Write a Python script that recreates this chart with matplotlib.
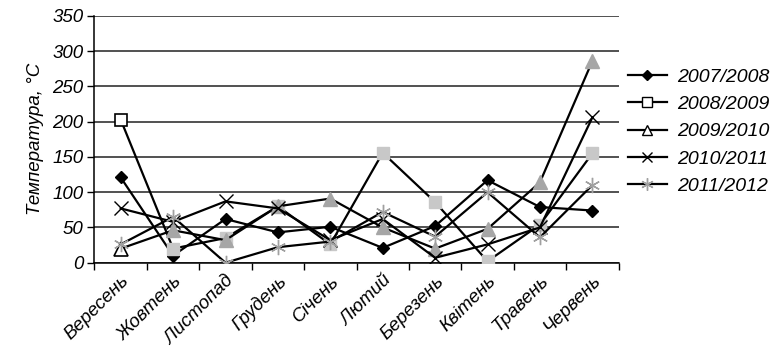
import matplotlib
matplotlib.use("Agg")
import matplotlib.pyplot as plt
from matplotlib.lines import Line2D

months = ["Вересень", "Жовтень", "Листопад", "Грудень", "Січень",
          "Лютий", "Березень", "Квітень", "Травень", "Червень"]
s2007 = [121, 10, 62, 43, 51, 21, 52, 117, 79, 74]
s2008 = [203, 20, 35, 80, 26, 156, 86, 2, 54, 155]
s2009 = [20, 46, 32, 80, 91, 50, 20, 48, 114, 286]
s2010 = [77, 58, 87, 77, 32, 62, 7, 26, 50, 206]
s2011 = [26, 65, 0, 22, 30, 72, 37, 100, 36, 110]
labels = ["2007/2008", "2008/2009", "2009/2010", "2010/2011", "2011/2012"]
yticks = [0, 50, 100, 150, 200, 250, 300, 350]

plt.rcParams['font.family'] = ['Liberation Sans', 'DejaVu Sans']

fig = plt.figure(figsize=(7.79, 3.53), dpi=100)
ax = fig.add_axes([0.1213, 0.2558, 0.794 - 0.1213, 0.9547 - 0.2558])

x = list(range(len(months)))
lw = 1.6
ast = (6, 2, 0)
lgray = '#c8c8c8'
mgray = '#a6a6a6'
agray = '#a0a0a0'
fs = 13.5

# 2007/2008
ax.plot(x, s2007, color='black', lw=lw, marker='D', ms=6.3, mfc='black', mec='black', zorder=3)
# 2008/2009
ax.plot(x, s2008, color='black', lw=lw, zorder=3)
ax.plot(x[:1], s2008[:1], ls='none', marker='s', ms=8.5, mfc='white', mec='black', mew=1.2, zorder=4)
ax.plot(x[1:], s2008[1:], ls='none', marker='s', ms=8.5, mfc=lgray, mec=lgray, zorder=4)
# 2009/2010
ax.plot(x, s2009, color='black', lw=lw, zorder=5)
ax.plot(x[:1], s2009[:1], ls='none', marker='^', ms=9.5, mfc='white', mec='black', mew=1.2, zorder=6)
ax.plot(x[1:], s2009[1:], ls='none', marker='^', ms=9.5, mfc=mgray, mec=mgray, zorder=6)
# 2010/2011
ax.plot(x, s2010, color='black', lw=lw, marker='x', ms=9.5, mec='black', mew=1.0, zorder=7)
# 2011/2012
ax.plot(x, s2011, color='black', lw=lw, marker=ast, ms=11, mec=agray, mew=1.0, zorder=8)

ax.set_xlim(-0.5, len(months) - 0.5)
ax.set_ylim(0, 350)
ax.set_yticks(yticks)
ax.set_yticklabels([str(v) for v in yticks], fontsize=fs, style='italic')
ax.yaxis.grid(True, color='#222222', lw=1.1)
ax.set_axisbelow(True)

ax.set_xticks([i + 0.5 for i in range(-1, len(months))], minor=False)
ax.set_xticklabels([])
ax.set_xticks(x, minor=True)
ax.set_xticklabels(months, minor=True, rotation=45, ha='right', va='top',
                   rotation_mode='anchor', fontsize=fs, style='italic')
ax.tick_params(axis='x', which='minor', length=0, pad=7)
ax.tick_params(axis='x', which='major', length=5, width=1, direction='out', color='black')
ax.tick_params(axis='y', length=5, width=1, direction='out', pad=3)

for s in ['top', 'right']:
    ax.spines[s].set_visible(False)
ax.spines['left'].set_linewidth(1.1)
ax.spines['bottom'].set_linewidth(1.1)

ax.set_ylabel("Температура, °C", fontsize=fs, style='italic', labelpad=6)

handles = [
    Line2D([], [], color='black', lw=lw, marker='D', ms=5, mfc='black', mec='black'),
    Line2D([], [], color='black', lw=lw, marker='s', ms=7, mfc='white', mec='black', mew=1),
    Line2D([], [], color='black', lw=lw, marker='^', ms=7, mfc='white', mec='black', mew=1),
    Line2D([], [], color='black', lw=lw, marker='x', ms=7, mec='black', mew=1),
    Line2D([], [], color='black', lw=lw, marker=ast, ms=9, mec=agray, mew=1),
]
leg = fig.legend(handles, labels, loc='center left', bbox_to_anchor=(0.806, 0.627),
                 frameon=False, numpoints=1, handlelength=2.0, labelspacing=0.5,
                 handletextpad=0.55, borderaxespad=0, borderpad=0,
                 prop={'style': 'italic', 'size': 14})

fig.savefig("out.png", dpi=100)
